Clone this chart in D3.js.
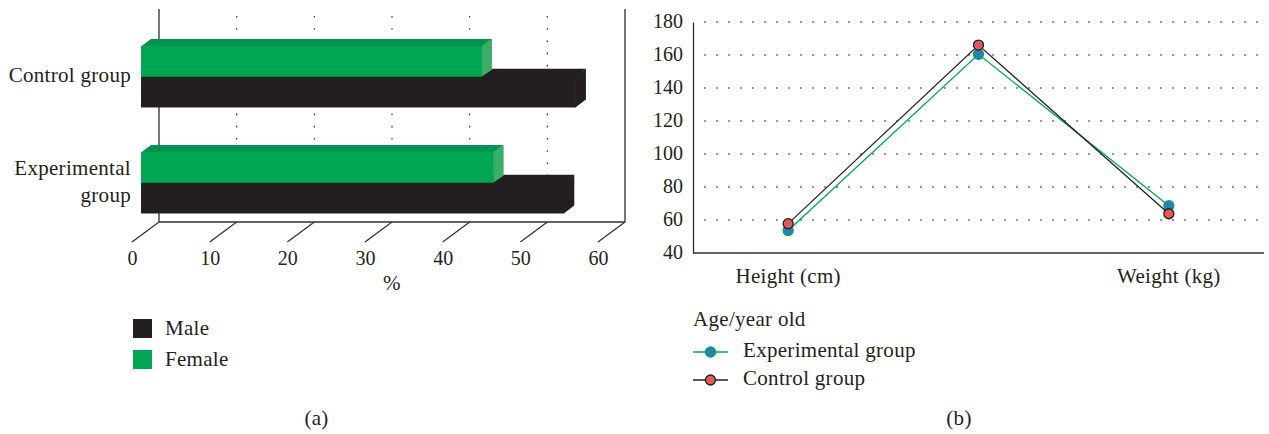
<!DOCTYPE html>
<html><head><meta charset="utf-8">
<script src="https://cdn.jsdelivr.net/npm/d3@7"></script>
<style>
html,body{margin:0;padding:0;background:#fff}
svg{display:block}
text{font-family:"Liberation Serif",serif;font-size:21px;letter-spacing:0.3px;fill:#231f20}
text.num{font-size:20px;letter-spacing:0}
</style></head><body>
<svg id="c" width="1269" height="434"></svg>
<script>
// ---- panel (a) data
const groups = ["Control group", "Experimental group"];
const barSeries = ["Female", "Male"];
const female = [43.9, 45.4];
const male = [56, 54.5];
const xTicksA = [0, 10, 20, 30, 40, 50, 60];
const legendA = ["Male", "Female"];
// ---- panel (b) data
const measures = ["Height (cm)", "", "Weight (kg)"];
const experimental = [53.6, 160.4, 68.7];
const control = [57.8, 166, 63.8];
const yTicksB = [40, 60, 80, 100, 120, 140, 160, 180];
const legendB = ["Experimental group", "Control group"];

const INK = "#231f20";
const svg = d3.select("#c");

// ================= panel (a)
const a = svg.append("g");
const xBack = d3.scaleLinear().domain([0, 60]).range([159, 625]);
const xFront = v => xBack(v) - 18;        // bar front face plane
const wallTop = 9, wallBottom = 222;
const floor = { x: -27, y: 20 };

// dotted wall grid
a.selectAll("line.grid").data(xTicksA.slice(1, -1)).join("line")
  .attr("x1", d => xBack(d)).attr("x2", d => xBack(d))
  .attr("y1", 16).attr("y2", wallBottom)
  .attr("stroke", "#333").attr("stroke-width", 1.2).attr("stroke-dasharray", "1.6 10.6");

// walls and floor
const axisCol = "#2f2d2e";
[[xBack(0), wallTop, xBack(0), wallBottom], [xBack(60), wallTop, xBack(60), wallBottom],
 [xBack(0), wallBottom, xBack(60), wallBottom]].forEach(l =>
  a.append("line").attr("x1", l[0]).attr("y1", l[1]).attr("x2", l[2]).attr("y2", l[3])
   .attr("stroke", axisCol).attr("stroke-width", 1.3));
a.selectAll("line.tick").data(xTicksA).join("line")
  .attr("x1", d => xBack(d)).attr("y1", wallBottom)
  .attr("x2", d => xBack(d) + floor.x).attr("y2", wallBottom + floor.y)
  .attr("stroke", axisCol).attr("stroke-width", 1.2);
a.selectAll("text.tick").data(xTicksA).join("text").attr("class", "num")
  .attr("x", d => xBack(d) + floor.x + 0.5).attr("y", 265)
  .attr("text-anchor", "middle").text(d => d);
a.append("text").attr("x", 392).attr("y", 290).attr("text-anchor", "middle").text("%");

// 3-D bars
const yGroup = d3.scaleBand().domain(groups).range([46, 213.5]).paddingInner(0.42);
const ySeries = d3.scaleBand().domain(barSeries).range([0, yGroup.bandwidth()]);
const barStyle = {
  Female: { front: "#00a651", top: "#009353", side: "#3aae66", dx: 10, dy: -7 },
  Male: { front: INK, top: INK, side: INK, dx: 10, dy: -8 }
};
const barValues = { Female: female, Male: male };
const pts = p => p.map(q => q.join(",")).join(" ");
["Male", "Female"].forEach(s => {
  const st = barStyle[s];
  groups.forEach((g, i) => {
    const x0 = xFront(0), x1 = xFront(barValues[s][i]);
    const y0 = yGroup(g) + ySeries(s), y1 = y0 + ySeries.bandwidth();
    const b = a.append("g");
    b.append("polygon").attr("fill", st.top)
      .attr("points", pts([[x0, y0 + 0.5], [x0 + st.dx, y0 + st.dy], [x1 + st.dx, y0 + st.dy], [x1, y0 + 0.5]]));
    b.append("polygon").attr("fill", st.side)
      .attr("points", pts([[x1 - 0.5, y0], [x1 + st.dx, y0 + st.dy], [x1 + st.dx, y1 + st.dy], [x1 - 0.5, y1]]));
    b.append("rect").attr("x", x0).attr("y", y0).attr("width", x1 - x0).attr("height", y1 - y0)
      .attr("fill", st.front);
  });
});

// category labels
a.append("text").attr("x", 131).attr("y", 82).attr("text-anchor", "end").text(groups[0]);
a.append("text").attr("x", 131).attr("y", 175).attr("text-anchor", "end").text(groups[1].split(" ")[0]);
a.append("text").attr("x", 131).attr("y", 201.5).attr("text-anchor", "end").text(groups[1].split(" ")[1]);

// legend
const legY = d3.scalePoint().domain(legendA).range([319, 350]);
legendA.forEach(s => {
  a.append("rect").attr("x", 133).attr("y", legY(s)).attr("width", 19).attr("height", 19).attr("fill", barStyle[s].front);
  a.append("text").attr("x", 165).attr("y", legY(s) + 15.5).text(s);
});
a.append("text").attr("x", 316.5).attr("y", 425).attr("text-anchor", "middle").text("(a)");

// ================= panel (b)
const b = svg.append("g");
const yB = d3.scaleLinear().domain([40, 180]).range([253, 22]);
const xB = d3.scaleBand().domain(measures.map((m, i) => i)).range([693, 1264]);
const cx = i => xB(i) + xB.bandwidth() / 2;

b.selectAll("line.grid").data(yTicksB.slice(1)).join("line")
  .attr("x1", 704).attr("x2", 1264).attr("y1", d => yB(d)).attr("y2", d => yB(d))
  .attr("stroke", "#333").attr("stroke-width", 1.2).attr("stroke-dasharray", "2 10");

const axisY = b.append("g").attr("transform", "translate(693,0)")
  .call(d3.axisLeft(yB).tickValues(yTicksB).tickSize(0).tickPadding(10));
axisY.select(".domain").attr("stroke", axisCol).attr("stroke-width", 1.3);
axisY.selectAll("text").attr("class", "num").attr("dy", "0.25em");
axisY.attr("font-family", null).attr("font-size", null);
b.append("line").attr("x1", 693).attr("x2", 1264).attr("y1", yB(40)).attr("y2", yB(40))
  .attr("stroke", axisCol).attr("stroke-width", 1.3);
b.selectAll("text.cat").data(measures).join("text")
  .attr("x", (d, i) => cx(i)).attr("y", 283).attr("text-anchor", "middle").text(d => d);

const line = d3.line().x((d, i) => cx(i)).y(d => yB(d));
const seriesB = [
  { name: legendB[0], values: experimental, line: "#00a651", fill: "#2a7fb8", stroke: "#00a651" },
  { name: legendB[1], values: control, line: INK, fill: "#e05a5a", stroke: INK }
];
seriesB.forEach(s => {
  b.append("path").attr("d", line(s.values)).attr("fill", "none").attr("stroke", s.line).attr("stroke-width", 1.3);
  b.selectAll(null).data(s.values).join("circle")
    .attr("cx", (d, i) => cx(i)).attr("cy", d => yB(d)).attr("r", 5)
    .attr("fill", s.fill).attr("stroke", s.stroke).attr("stroke-width", 1.3);
});

b.append("text").attr("x", 693).attr("y", 326).text("Age/year old");
const legBY = d3.scalePoint().domain(legendB).range([352, 380]);
seriesB.forEach(s => {
  const y = legBY(s.name);
  b.append("line").attr("x1", 693).attr("x2", 728).attr("y1", y).attr("y2", y).attr("stroke", s.line).attr("stroke-width", 1.3);
  b.append("circle").attr("cx", 710.5).attr("cy", y).attr("r", 5).attr("fill", s.fill).attr("stroke", s.stroke).attr("stroke-width", 1.3);
  b.append("text").attr("x", 743).attr("y", y + 5).text(s.name);
});
b.append("text").attr("x", 959).attr("y", 425).attr("text-anchor", "middle").text("(b)");
</script>
</body></html>
